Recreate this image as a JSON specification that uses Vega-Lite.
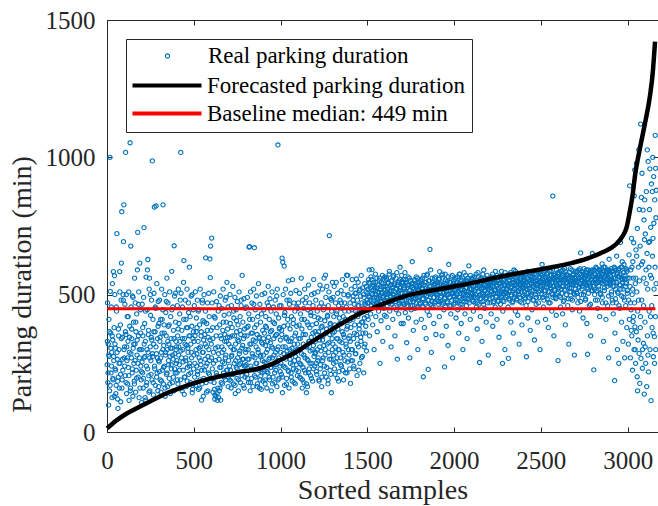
{
  "$schema": "https://vega.github.io/schema/vega-lite/v6.json",
  "width": 551,
  "height": 412,
  "autosize": {"type": "none"},
  "padding": {"left": 107, "top": 20, "right": 0, "bottom": 74},
  "background": "white",
  "config": {
    "view": {"stroke": null},
    "font": "Liberation Serif",
    "axis": {
      "grid": false,
      "domainColor": "#262626",
      "domainWidth": 1,
      "tickColor": "#262626",
      "tickWidth": 1,
      "tickSize": -5,
      "labelColor": "#262626",
      "titleColor": "#262626",
      "labelFont": "Liberation Serif",
      "titleFont": "Liberation Serif",
      "labelFontSize": 25,
      "titleFontSize": 28,
      "titleFontWeight": "normal",
      "labelFlush": false,
      "labelOverlap": false
    },
    "legend": {
      "orient": "none",
      "direction": "vertical",
      "labelFont": "Liberation Serif",
      "labelFontSize": 23,
      "labelColor": "#000000",
      "labelLimit": 400,
      "rowPadding": 6,
      "padding": 6
    }
  },
  "datasets": {
    "samples": [
      {"s":1,"d":245},{"s":3,"d":470},{"s":5,"d":180},{"s":7,"d":320},{"s":9,"d":98},{"s":11,"d":410},{"s":13,"d":275},{"s":15,"d":150},{"s":17,"d":1000},{"s":19,"d":512},{"s":21,"d":360},{"s":23,"d":215},{"s":25,"d":455},{"s":27,"d":290},{"s":29,"d":125},{"s":31,"d":540},{"s":33,"d":335},{"s":35,"d":190},{"s":37,"d":584},{"s":39,"d":260},{"s":41,"d":380},{"s":43,"d":569},{"s":45,"d":500},{"s":47,"d":230},{"s":49,"d":305},{"s":51,"d":140},{"s":53,"d":170},{"s":55,"d":440},{"s":57,"d":722},{"s":59,"d":265},{"s":61,"d":120},{"s":63,"d":86},{"s":65,"d":200},{"s":67,"d":350},{"s":69,"d":300},{"s":71,"d":160},{"s":73,"d":584},{"s":75,"d":250},{"s":77,"d":390},{"s":79,"d":110},{"s":81,"d":480},{"s":83,"d":615},{"s":85,"d":802},{"s":87,"d":190},{"s":89,"d":345},{"s":91,"d":225},{"s":93,"d":500},{"s":95,"d":693},{"s":97,"d":827},{"s":99,"d":270},
      {"s":101,"d":310},{"s":103,"d":465},{"s":105,"d":205},{"s":107,"d":1018},{"s":109,"d":355},{"s":111,"d":500},{"s":113,"d":140},{"s":115,"d":260},{"s":117,"d":420},{"s":119,"d":175},{"s":121,"d":330},{"s":123,"d":235},{"s":125,"d":510},{"s":127,"d":115},{"s":129,"d":290},{"s":131,"d":385},{"s":133,"d":1053},{"s":135,"d":160},{"s":137,"d":677},{"s":139,"d":455},{"s":141,"d":270},{"s":143,"d":340},{"s":145,"d":215},{"s":147,"d":495},{"s":149,"d":130},{"s":151,"d":305},{"s":153,"d":400},{"s":155,"d":250},{"s":157,"d":185},{"s":159,"d":560},{"s":161,"d":320},{"s":163,"d":470},{"s":165,"d":145},{"s":167,"d":365},{"s":169,"d":225},{"s":171,"d":430},{"s":173,"d":280},{"s":175,"d":590},{"s":177,"d":727},{"s":179,"d":200},{"s":181,"d":350},{"s":183,"d":510},{"s":185,"d":125},{"s":187,"d":270},{"s":189,"d":615},{"s":191,"d":300},{"s":193,"d":445},{"s":195,"d":240},{"s":197,"d":190},{"s":199,"d":107},
      {"s":201,"d":300},{"s":203,"d":465},{"s":205,"d":215},{"s":207,"d":350},{"s":209,"d":160},{"s":211,"d":490},{"s":213,"d":744},{"s":215,"d":270},{"s":217,"d":395},{"s":219,"d":125},{"s":221,"d":330},{"s":223,"d":116},{"s":225,"d":564},{"s":227,"d":240},{"s":229,"d":180},{"s":231,"d":445},{"s":233,"d":590},{"s":235,"d":628},{"s":237,"d":290},{"s":239,"d":370},{"s":241,"d":205},{"s":243,"d":520},{"s":245,"d":560},{"s":247,"d":150},{"s":249,"d":310},{"s":251,"d":425},{"s":253,"d":260},{"s":255,"d":345},{"s":257,"d":480},{"s":259,"d":190},{"s":261,"d":987},{"s":263,"d":275},{"s":265,"d":410},{"s":267,"d":135},{"s":269,"d":320},{"s":271,"d":505},{"s":273,"d":819},{"s":275,"d":230},{"s":277,"d":365},{"s":279,"d":170},{"s":281,"d":450},{"s":283,"d":823},{"s":285,"d":285},{"s":287,"d":540},{"s":289,"d":215},{"s":291,"d":340},{"s":293,"d":150},{"s":295,"d":475},{"s":297,"d":260},{"s":299,"d":395},
      {"s":301,"d":255},{"s":303,"d":480},{"s":305,"d":330},{"s":307,"d":190},{"s":309,"d":410},{"s":311,"d":145},{"s":313,"d":290},{"s":315,"d":520},{"s":317,"d":360},{"s":319,"d":225},{"s":321,"d":445},{"s":323,"d":827},{"s":325,"d":175},{"s":327,"d":315},{"s":329,"d":390},{"s":331,"d":240},{"s":333,"d":500},{"s":335,"d":130},{"s":337,"d":280},{"s":339,"d":435},{"s":341,"d":350},{"s":343,"d":210},{"s":345,"d":560},{"s":347,"d":300},{"s":349,"d":165},{"s":351,"d":470},{"s":353,"d":385},{"s":355,"d":245},{"s":357,"d":320},{"s":359,"d":195},{"s":361,"d":510},{"s":363,"d":275},{"s":365,"d":140},{"s":367,"d":420},{"s":369,"d":340},{"s":371,"d":230},{"s":373,"d":585},{"s":375,"d":305},{"s":377,"d":180},{"s":379,"d":455},{"s":381,"d":265},{"s":383,"d":370},{"s":385,"d":150},{"s":387,"d":678},{"s":389,"d":495},{"s":391,"d":285},{"s":393,"d":215},{"s":395,"d":400},{"s":397,"d":330},{"s":399,"d":250},
      {"s":401,"d":310},{"s":403,"d":215},{"s":405,"d":460},{"s":407,"d":350},{"s":409,"d":175},{"s":411,"d":520},{"s":413,"d":280},{"s":415,"d":395},{"s":417,"d":245},{"s":419,"d":430},{"s":421,"d":330},{"s":423,"d":190},{"s":425,"d":1018},{"s":427,"d":505},{"s":429,"d":270},{"s":431,"d":370},{"s":433,"d":150},{"s":435,"d":455},{"s":437,"d":300},{"s":439,"d":225},{"s":441,"d":545},{"s":443,"d":624},{"s":445,"d":137},{"s":447,"d":340},{"s":449,"d":200},{"s":451,"d":480},{"s":453,"d":260},{"s":455,"d":410},{"s":457,"d":165},{"s":459,"d":315},{"s":461,"d":520},{"s":463,"d":235},{"s":465,"d":380},{"s":467,"d":290},{"s":469,"d":470},{"s":471,"d":210},{"s":473,"d":350},{"s":475,"d":600},{"s":477,"d":250},{"s":479,"d":420},{"s":481,"d":180},{"s":483,"d":320},{"s":485,"d":495},{"s":487,"d":270},{"s":489,"d":385},{"s":491,"d":143},{"s":493,"d":155},{"s":495,"d":340},{"s":497,"d":445},{"s":499,"d":230},
      {"s":501,"d":280},{"s":503,"d":460},{"s":505,"d":200},{"s":507,"d":350},{"s":509,"d":510},{"s":511,"d":170},{"s":513,"d":300},{"s":515,"d":415},{"s":517,"d":240},{"s":519,"d":380},{"s":521,"d":480},{"s":523,"d":220},{"s":525,"d":330},{"s":527,"d":155},{"s":529,"d":445},{"s":531,"d":270},{"s":533,"d":390},{"s":535,"d":190},{"s":537,"d":520},{"s":539,"d":310},{"s":541,"d":245},{"s":543,"d":365},{"s":545,"d":116},{"s":547,"d":175},{"s":549,"d":470},{"s":551,"d":290},{"s":553,"d":405},{"s":555,"d":130},{"s":557,"d":335},{"s":559,"d":500},{"s":561,"d":225},{"s":563,"d":355},{"s":565,"d":265},{"s":567,"d":440},{"s":569,"d":634},{"s":571,"d":180},{"s":573,"d":310},{"s":575,"d":395},{"s":577,"d":250},{"s":579,"d":470},{"s":581,"d":150},{"s":583,"d":345},{"s":585,"d":215},{"s":587,"d":300},{"s":589,"d":420},{"s":591,"d":260},{"s":593,"d":630},{"s":595,"d":562},{"s":597,"d":677},{"s":599,"d":370},
      {"s":601,"d":320},{"s":603,"d":706},{"s":605,"d":470},{"s":607,"d":230},{"s":609,"d":380},{"s":611,"d":145},{"s":613,"d":290},{"s":615,"d":510},{"s":617,"d":180},{"s":619,"d":155},{"s":621,"d":120},{"s":623,"d":415},{"s":625,"d":260},{"s":627,"d":130},{"s":629,"d":350},{"s":631,"d":475},{"s":633,"d":205},{"s":635,"d":140},{"s":637,"d":115},{"s":639,"d":310},{"s":641,"d":440},{"s":643,"d":125},{"s":645,"d":265},{"s":647,"d":150},{"s":649,"d":390},{"s":651,"d":160},{"s":653,"d":495},{"s":655,"d":116},{"s":657,"d":235},{"s":659,"d":340},{"s":661,"d":450},{"s":663,"d":290},{"s":665,"d":175},{"s":667,"d":370},{"s":669,"d":520},{"s":671,"d":215},{"s":673,"d":300},{"s":675,"d":425},{"s":677,"d":250},{"s":679,"d":355},{"s":681,"d":480},{"s":683,"d":190},{"s":685,"d":280},{"s":687,"d":400},{"s":689,"d":330},{"s":691,"d":545},{"s":693,"d":225},{"s":695,"d":375},{"s":697,"d":455},{"s":699,"d":200},
      {"s":701,"d":260},{"s":703,"d":430},{"s":705,"d":190},{"s":707,"d":345},{"s":709,"d":500},{"s":711,"d":225},{"s":713,"d":310},{"s":715,"d":160},{"s":717,"d":460},{"s":719,"d":280},{"s":721,"d":380},{"s":723,"d":210},{"s":725,"d":530},{"s":727,"d":300},{"s":729,"d":175},{"s":731,"d":415},{"s":733,"d":250},{"s":735,"d":350},{"s":737,"d":490},{"s":739,"d":140},{"s":741,"d":320},{"s":743,"d":445},{"s":745,"d":235},{"s":747,"d":365},{"s":749,"d":195},{"s":751,"d":475},{"s":753,"d":270},{"s":755,"d":390},{"s":757,"d":150},{"s":759,"d":330},{"s":761,"d":510},{"s":763,"d":245},{"s":765,"d":295},{"s":767,"d":420},{"s":769,"d":180},{"s":771,"d":355},{"s":773,"d":460},{"s":775,"d":220},{"s":777,"d":305},{"s":779,"d":570},{"s":781,"d":265},{"s":783,"d":400},{"s":785,"d":170},{"s":787,"d":340},{"s":789,"d":485},{"s":791,"d":240},{"s":793,"d":375},{"s":795,"d":200},{"s":797,"d":450},{"s":799,"d":290},
      {"s":801,"d":300},{"s":803,"d":455},{"s":805,"d":210},{"s":807,"d":350},{"s":809,"d":490},{"s":811,"d":265},{"s":813,"d":385},{"s":815,"d":180},{"s":817,"d":430},{"s":819,"d":673},{"s":821,"d":675},{"s":823,"d":320},{"s":825,"d":150},{"s":827,"d":510},{"s":829,"d":240},{"s":831,"d":360},{"s":833,"d":195},{"s":835,"d":470},{"s":837,"d":285},{"s":839,"d":410},{"s":841,"d":165},{"s":843,"d":335},{"s":845,"d":520},{"s":847,"d":225},{"s":849,"d":671},{"s":851,"d":380},{"s":853,"d":270},{"s":855,"d":445},{"s":857,"d":200},{"s":859,"d":310},{"s":861,"d":495},{"s":863,"d":250},{"s":865,"d":355},{"s":867,"d":175},{"s":869,"d":420},{"s":871,"d":290},{"s":873,"d":540},{"s":875,"d":230},{"s":877,"d":340},{"s":879,"d":160},{"s":881,"d":465},{"s":883,"d":275},{"s":885,"d":400},{"s":887,"d":205},{"s":889,"d":155},{"s":891,"d":325},{"s":893,"d":500},{"s":895,"d":260},{"s":897,"d":370},{"s":899,"d":185},
      {"s":901,"d":280},{"s":903,"d":445},{"s":905,"d":220},{"s":907,"d":360},{"s":909,"d":505},{"s":911,"d":175},{"s":913,"d":315},{"s":915,"d":420},{"s":917,"d":250},{"s":919,"d":380},{"s":921,"d":160},{"s":923,"d":470},{"s":925,"d":300},{"s":927,"d":215},{"s":929,"d":530},{"s":931,"d":345},{"s":933,"d":265},{"s":935,"d":410},{"s":937,"d":190},{"s":939,"d":485},{"s":941,"d":325},{"s":943,"d":235},{"s":945,"d":440},{"s":947,"d":150},{"s":949,"d":370},{"s":951,"d":510},{"s":953,"d":270},{"s":955,"d":305},{"s":957,"d":200},{"s":959,"d":455},{"s":961,"d":340},{"s":963,"d":245},{"s":965,"d":395},{"s":967,"d":180},{"s":969,"d":480},{"s":971,"d":290},{"s":973,"d":225},{"s":975,"d":430},{"s":977,"d":355},{"s":979,"d":165},{"s":981,"d":520},{"s":983,"d":260},{"s":985,"d":1045},{"s":987,"d":310},{"s":989,"d":415},{"s":991,"d":195},{"s":993,"d":375},{"s":995,"d":460},{"s":997,"d":240},{"s":999,"d":335},
      {"s":1001,"d":290},{"s":1003,"d":460},{"s":1005,"d":210},{"s":1007,"d":355},{"s":1009,"d":633},{"s":1011,"d":143},{"s":1013,"d":618},{"s":1015,"d":500},{"s":1017,"d":240},{"s":1019,"d":385},{"s":1021,"d":604},{"s":1023,"d":170},{"s":1025,"d":435},{"s":1027,"d":310},{"s":1029,"d":520},{"s":1031,"d":265},{"s":1033,"d":345},{"s":1035,"d":195},{"s":1037,"d":480},{"s":1039,"d":280},{"s":1041,"d":410},{"s":1043,"d":225},{"s":1045,"d":550},{"s":1047,"d":330},{"s":1049,"d":160},{"s":1051,"d":465},{"s":1053,"d":300},{"s":1055,"d":375},{"s":1057,"d":250},{"s":1059,"d":505},{"s":1061,"d":215},{"s":1063,"d":420},{"s":1065,"d":340},{"s":1067,"d":185},{"s":1069,"d":555},{"s":1071,"d":290},{"s":1073,"d":395},{"s":1075,"d":230},{"s":1077,"d":470},{"s":1079,"d":320},{"s":1081,"d":260},{"s":1083,"d":440},{"s":1085,"d":175},{"s":1087,"d":360},{"s":1089,"d":515},{"s":1091,"d":245},{"s":1093,"d":385},{"s":1095,"d":300},{"s":1097,"d":205},{"s":1099,"d":450},
      {"s":1101,"d":300},{"s":1103,"d":470},{"s":1105,"d":220},{"s":1107,"d":390},{"s":1109,"d":505},{"s":1111,"d":250},{"s":1113,"d":340},{"s":1115,"d":430},{"s":1117,"d":195},{"s":1119,"d":560},{"s":1121,"d":285},{"s":1123,"d":375},{"s":1125,"d":160},{"s":1127,"d":480},{"s":1129,"d":235},{"s":1131,"d":320},{"s":1133,"d":450},{"s":1135,"d":180},{"s":1137,"d":410},{"s":1139,"d":520},{"s":1141,"d":270},{"s":1143,"d":355},{"s":1145,"d":215},{"s":1147,"d":490},{"s":1149,"d":143},{"s":1151,"d":310},{"s":1153,"d":400},{"s":1155,"d":165},{"s":1157,"d":445},{"s":1159,"d":260},{"s":1161,"d":535},{"s":1163,"d":330},{"s":1165,"d":230},{"s":1167,"d":470},{"s":1169,"d":380},{"s":1171,"d":295},{"s":1173,"d":205},{"s":1175,"d":425},{"s":1177,"d":345},{"s":1179,"d":500},{"s":1181,"d":250},{"s":1183,"d":390},{"s":1185,"d":185},{"s":1187,"d":460},{"s":1189,"d":315},{"s":1191,"d":555},{"s":1193,"d":275},{"s":1195,"d":420},{"s":1197,"d":240},{"s":1199,"d":365},
      {"s":1201,"d":330},{"s":1203,"d":480},{"s":1205,"d":250},{"s":1207,"d":395},{"s":1209,"d":210},{"s":1211,"d":440},{"s":1213,"d":300},{"s":1215,"d":510},{"s":1217,"d":270},{"s":1219,"d":365},{"s":1221,"d":190},{"s":1223,"d":455},{"s":1225,"d":335},{"s":1227,"d":535},{"s":1229,"d":230},{"s":1231,"d":410},{"s":1233,"d":295},{"s":1235,"d":470},{"s":1237,"d":165},{"s":1239,"d":385},{"s":1241,"d":520},{"s":1243,"d":260},{"s":1245,"d":350},{"s":1247,"d":445},{"s":1249,"d":315},{"s":1251,"d":560},{"s":1253,"d":240},{"s":1255,"d":405},{"s":1257,"d":280},{"s":1259,"d":571},{"s":1261,"d":490},{"s":1263,"d":200},{"s":1265,"d":375},{"s":1267,"d":530},{"s":1269,"d":320},{"s":1271,"d":425},{"s":1273,"d":175},{"s":1275,"d":460},{"s":1277,"d":290},{"s":1279,"d":510},{"s":1281,"d":715},{"s":1283,"d":355},{"s":1285,"d":225},{"s":1287,"d":395},{"s":1289,"d":485},{"s":1291,"d":265},{"s":1293,"d":143},{"s":1295,"d":440},{"s":1297,"d":340},{"s":1299,"d":545},
      {"s":1301,"d":360},{"s":1303,"d":490},{"s":1305,"d":280},{"s":1307,"d":420},{"s":1309,"d":530},{"s":1311,"d":230},{"s":1313,"d":390},{"s":1315,"d":310},{"s":1317,"d":470},{"s":1319,"d":255},{"s":1321,"d":545},{"s":1323,"d":340},{"s":1325,"d":440},{"s":1327,"d":195},{"s":1329,"d":505},{"s":1331,"d":375},{"s":1333,"d":300},{"s":1335,"d":460},{"s":1337,"d":220},{"s":1339,"d":415},{"s":1341,"d":330},{"s":1343,"d":480},{"s":1345,"d":270},{"s":1347,"d":395},{"s":1349,"d":515},{"s":1351,"d":240},{"s":1353,"d":450},{"s":1355,"d":365},{"s":1357,"d":555},{"s":1359,"d":290},{"s":1361,"d":420},{"s":1363,"d":190},{"s":1365,"d":500},{"s":1367,"d":345},{"s":1369,"d":470},{"s":1371,"d":260},{"s":1373,"d":410},{"s":1375,"d":535},{"s":1377,"d":320},{"s":1379,"d":455},{"s":1381,"d":571},{"s":1383,"d":215},{"s":1385,"d":385},{"s":1387,"d":570},{"s":1389,"d":495},{"s":1391,"d":300},{"s":1393,"d":440},{"s":1395,"d":280},{"s":1397,"d":405},{"s":1399,"d":350},
      {"s":1401,"d":470},{"s":1403,"d":177},{"s":1405,"d":380},{"s":1407,"d":520},{"s":1409,"d":300},{"s":1411,"d":445},{"s":1413,"d":555},{"s":1415,"d":260},{"s":1417,"d":410},{"s":1419,"d":495},{"s":1421,"d":340},{"s":1423,"d":230},{"s":1425,"d":465},{"s":1427,"d":390},{"s":1429,"d":530},{"s":1431,"d":285},{"s":1433,"d":440},{"s":1435,"d":505},{"s":1437,"d":557},{"s":1439,"d":355},{"s":1441,"d":205},{"s":1443,"d":480},{"s":1445,"d":420},{"s":1447,"d":545},{"s":1449,"d":310},{"s":1451,"d":460},{"s":1453,"d":375},{"s":1455,"d":515},{"s":1457,"d":250},{"s":1459,"d":435},{"s":1461,"d":495},{"s":1463,"d":330},{"s":1465,"d":570},{"s":1467,"d":400},{"s":1469,"d":470},{"s":1471,"d":275},{"s":1473,"d":525},{"s":1475,"d":360},{"s":1477,"d":450},{"s":1479,"d":215},{"s":1481,"d":490},{"s":1483,"d":415},{"s":1485,"d":540},{"s":1487,"d":320},{"s":1489,"d":465},{"s":1491,"d":385},{"s":1493,"d":510},{"s":1495,"d":295},{"s":1497,"d":445},{"s":1499,"d":480},
      {"s":1501,"d":470},{"s":1503,"d":520},{"s":1505,"d":410},{"s":1507,"d":555},{"s":1509,"d":495},{"s":1511,"d":590},{"s":1513,"d":350},{"s":1515,"d":540},{"s":1517,"d":480},{"s":1519,"d":430},{"s":1521,"d":565},{"s":1523,"d":505},{"s":1525,"d":460},{"s":1527,"d":591},{"s":1529,"d":530},{"s":1531,"d":390},{"s":1533,"d":515},{"s":1535,"d":470},{"s":1537,"d":545},{"s":1539,"d":300},{"s":1541,"d":490},{"s":1543,"d":525},{"s":1545,"d":455},{"s":1547,"d":575},{"s":1549,"d":420},{"s":1551,"d":500},{"s":1553,"d":470},{"s":1555,"d":560},{"s":1557,"d":365},{"s":1559,"d":510},{"s":1561,"d":485},{"s":1563,"d":535},{"s":1565,"d":440},{"s":1567,"d":465},{"s":1569,"d":550},{"s":1571,"d":495},{"s":1573,"d":250},{"s":1575,"d":520},{"s":1577,"d":475},{"s":1579,"d":405},{"s":1581,"d":545},{"s":1583,"d":505},{"s":1585,"d":460},{"s":1587,"d":570},{"s":1589,"d":330},{"s":1591,"d":490},{"s":1593,"d":530},{"s":1595,"d":450},{"s":1597,"d":515},{"s":1599,"d":425},
      {"s":1601,"d":565},{"s":1603,"d":500},{"s":1605,"d":475},{"s":1607,"d":530},{"s":1609,"d":420},{"s":1611,"d":555},{"s":1613,"d":490},{"s":1615,"d":460},{"s":1617,"d":520},{"s":1619,"d":380},{"s":1621,"d":545},{"s":1623,"d":505},{"s":1625,"d":470},{"s":1627,"d":585},{"s":1629,"d":440},{"s":1631,"d":515},{"s":1633,"d":495},{"s":1635,"d":535},{"s":1637,"d":310},{"s":1639,"d":480},{"s":1641,"d":550},{"s":1643,"d":465},{"s":1645,"d":525},{"s":1647,"d":410},{"s":1649,"d":500},{"s":1651,"d":570},{"s":1653,"d":455},{"s":1655,"d":490},{"s":1657,"d":540},{"s":1659,"d":350},{"s":1661,"d":510},{"s":1663,"d":475},{"s":1665,"d":560},{"s":1667,"d":445},{"s":1669,"d":520},{"s":1671,"d":495},{"s":1673,"d":265},{"s":1675,"d":535},{"s":1677,"d":480},{"s":1679,"d":505},{"s":1681,"d":430},{"s":1683,"d":550},{"s":1685,"d":470},{"s":1687,"d":515},{"s":1689,"d":600},{"s":1691,"d":460},{"s":1693,"d":525},{"s":1695,"d":395},{"s":1697,"d":490},{"s":1699,"d":545},
      {"s":1701,"d":505},{"s":1703,"d":540},{"s":1705,"d":470},{"s":1707,"d":395},{"s":1709,"d":555},{"s":1711,"d":490},{"s":1713,"d":520},{"s":1715,"d":465},{"s":1717,"d":580},{"s":1719,"d":435},{"s":1721,"d":510},{"s":1723,"d":545},{"s":1725,"d":480},{"s":1727,"d":325},{"s":1729,"d":525},{"s":1731,"d":500},{"s":1733,"d":460},{"s":1735,"d":565},{"s":1737,"d":415},{"s":1739,"d":535},{"s":1741,"d":490},{"s":1743,"d":515},{"s":1745,"d":270},{"s":1747,"d":475},{"s":1749,"d":550},{"s":1751,"d":505},{"s":1753,"d":445},{"s":1755,"d":530},{"s":1757,"d":495},{"s":1759,"d":620},{"s":1761,"d":460},{"s":1763,"d":540},{"s":1765,"d":370},{"s":1767,"d":520},{"s":1769,"d":485},{"s":1771,"d":510},{"s":1773,"d":555},{"s":1775,"d":450},{"s":1777,"d":500},{"s":1779,"d":535},{"s":1781,"d":400},{"s":1783,"d":470},{"s":1785,"d":525},{"s":1787,"d":490},{"s":1789,"d":560},{"s":1791,"d":300},{"s":1793,"d":515},{"s":1795,"d":480},{"s":1797,"d":545},{"s":1799,"d":465},
      {"s":1801,"d":490},{"s":1803,"d":530},{"s":1805,"d":470},{"s":1807,"d":550},{"s":1809,"d":505},{"s":1811,"d":410},{"s":1813,"d":540},{"s":1815,"d":520},{"s":1817,"d":485},{"s":1819,"d":560},{"s":1821,"d":455},{"s":1823,"d":201},{"s":1825,"d":510},{"s":1827,"d":535},{"s":1829,"d":380},{"s":1831,"d":500},{"s":1833,"d":545},{"s":1835,"d":470},{"s":1837,"d":525},{"s":1839,"d":340},{"s":1841,"d":495},{"s":1843,"d":570},{"s":1845,"d":440},{"s":1847,"d":515},{"s":1849,"d":480},{"s":1851,"d":228},{"s":1853,"d":550},{"s":1855,"d":505},{"s":1857,"d":425},{"s":1859,"d":530},{"s":1861,"d":665},{"s":1863,"d":465},{"s":1865,"d":590},{"s":1867,"d":500},{"s":1869,"d":290},{"s":1871,"d":520},{"s":1873,"d":475},{"s":1875,"d":545},{"s":1877,"d":510},{"s":1879,"d":455},{"s":1881,"d":535},{"s":1883,"d":395},{"s":1885,"d":490},{"s":1887,"d":560},{"s":1889,"d":470},{"s":1891,"d":515},{"s":1893,"d":540},{"s":1895,"d":355},{"s":1897,"d":500},{"s":1899,"d":525},
      {"s":1901,"d":515},{"s":1903,"d":480},{"s":1905,"d":545},{"s":1907,"d":500},{"s":1909,"d":530},{"s":1911,"d":465},{"s":1913,"d":555},{"s":1915,"d":420},{"s":1917,"d":584},{"s":1919,"d":510},{"s":1921,"d":540},{"s":1923,"d":475},{"s":1925,"d":525},{"s":1927,"d":495},{"s":1929,"d":571},{"s":1931,"d":350},{"s":1933,"d":560},{"s":1935,"d":470},{"s":1937,"d":535},{"s":1939,"d":505},{"s":1941,"d":445},{"s":1943,"d":520},{"s":1945,"d":237},{"s":1947,"d":490},{"s":1949,"d":575},{"s":1951,"d":455},{"s":1953,"d":540},{"s":1955,"d":385},{"s":1957,"d":510},{"s":1959,"d":530},{"s":1961,"d":475},{"s":1963,"d":550},{"s":1965,"d":315},{"s":1967,"d":500},{"s":1969,"d":610},{"s":1971,"d":525},{"s":1973,"d":460},{"s":1975,"d":545},{"s":1977,"d":490},{"s":1979,"d":515},{"s":1981,"d":430},{"s":1983,"d":565},{"s":1985,"d":505},{"s":1987,"d":480},{"s":1989,"d":535},{"s":1991,"d":270},{"s":1993,"d":520},{"s":1995,"d":495},{"s":1997,"d":550},{"s":1999,"d":465},
      {"s":2001,"d":530},{"s":2003,"d":495},{"s":2005,"d":555},{"s":2007,"d":470},{"s":2009,"d":520},{"s":2011,"d":415},{"s":2013,"d":545},{"s":2015,"d":505},{"s":2017,"d":480},{"s":2019,"d":565},{"s":2021,"d":445},{"s":2023,"d":525},{"s":2025,"d":510},{"s":2027,"d":360},{"s":2029,"d":540},{"s":2031,"d":490},{"s":2033,"d":575},{"s":2035,"d":465},{"s":2037,"d":530},{"s":2039,"d":505},{"s":2041,"d":395},{"s":2043,"d":550},{"s":2045,"d":485},{"s":2047,"d":520},{"s":2049,"d":560},{"s":2051,"d":300},{"s":2053,"d":500},{"s":2055,"d":535},{"s":2057,"d":475},{"s":2059,"d":515},{"s":2061,"d":545},{"s":2063,"d":430},{"s":2065,"d":495},{"s":2067,"d":570},{"s":2069,"d":510},{"s":2071,"d":460},{"s":2073,"d":525},{"s":2075,"d":340},{"s":2077,"d":550},{"s":2079,"d":500},{"s":2081,"d":485},{"s":2083,"d":535},{"s":2085,"d":605},{"s":2087,"d":470},{"s":2089,"d":520},{"s":2091,"d":545},{"s":2093,"d":410},{"s":2095,"d":505},{"s":2097,"d":490},{"s":2099,"d":560},
      {"s":2101,"d":520},{"s":2103,"d":545},{"s":2105,"d":480},{"s":2107,"d":505},{"s":2109,"d":560},{"s":2111,"d":440},{"s":2113,"d":530},{"s":2115,"d":495},{"s":2117,"d":550},{"s":2119,"d":515},{"s":2121,"d":470},{"s":2123,"d":535},{"s":2125,"d":500},{"s":2127,"d":575},{"s":2129,"d":455},{"s":2131,"d":525},{"s":2133,"d":375},{"s":2135,"d":545},{"s":2137,"d":490},{"s":2139,"d":510},{"s":2141,"d":565},{"s":2143,"d":465},{"s":2145,"d":530},{"s":2147,"d":253},{"s":2149,"d":500},{"s":2151,"d":420},{"s":2153,"d":555},{"s":2155,"d":485},{"s":2157,"d":520},{"s":2159,"d":540},{"s":2161,"d":330},{"s":2163,"d":505},{"s":2165,"d":550},{"s":2167,"d":475},{"s":2169,"d":525},{"s":2171,"d":590},{"s":2173,"d":495},{"s":2175,"d":535},{"s":2177,"d":450},{"s":2179,"d":515},{"s":2181,"d":560},{"s":2183,"d":485},{"s":2185,"d":400},{"s":2187,"d":530},{"s":2189,"d":505},{"s":2191,"d":545},{"s":2193,"d":470},{"s":2195,"d":520},{"s":2197,"d":280},{"s":2199,"d":540},
      {"s":2201,"d":535},{"s":2203,"d":500},{"s":2205,"d":555},{"s":2207,"d":470},{"s":2209,"d":525},{"s":2211,"d":545},{"s":2213,"d":430},{"s":2215,"d":510},{"s":2217,"d":565},{"s":2219,"d":490},{"s":2221,"d":530},{"s":2223,"d":385},{"s":2225,"d":550},{"s":2227,"d":505},{"s":2229,"d":475},{"s":2231,"d":540},{"s":2233,"d":515},{"s":2235,"d":560},{"s":2237,"d":455},{"s":2239,"d":520},{"s":2241,"d":545},{"s":2243,"d":495},{"s":2245,"d":535},{"s":2247,"d":410},{"s":2249,"d":570},{"s":2251,"d":505},{"s":2253,"d":480},{"s":2255,"d":550},{"s":2257,"d":525},{"s":2259,"d":345},{"s":2261,"d":540},{"s":2263,"d":500},{"s":2265,"d":560},{"s":2267,"d":465},{"s":2269,"d":530},{"s":2271,"d":515},{"s":2273,"d":585},{"s":2275,"d":490},{"s":2277,"d":545},{"s":2279,"d":250},{"s":2281,"d":440},{"s":2283,"d":520},{"s":2285,"d":555},{"s":2287,"d":475},{"s":2289,"d":505},{"s":2291,"d":535},{"s":2293,"d":300},{"s":2295,"d":565},{"s":2297,"d":510},{"s":2299,"d":490},
      {"s":2301,"d":545},{"s":2303,"d":520},{"s":2305,"d":560},{"s":2307,"d":495},{"s":2309,"d":535},{"s":2311,"d":455},{"s":2313,"d":268},{"s":2315,"d":550},{"s":2317,"d":510},{"s":2319,"d":575},{"s":2321,"d":480},{"s":2323,"d":540},{"s":2325,"d":525},{"s":2327,"d":400},{"s":2329,"d":565},{"s":2331,"d":500},{"s":2333,"d":530},{"s":2335,"d":470},{"s":2337,"d":555},{"s":2339,"d":515},{"s":2341,"d":360},{"s":2343,"d":545},{"s":2345,"d":590},{"s":2347,"d":490},{"s":2349,"d":535},{"s":2351,"d":520},{"s":2353,"d":440},{"s":2355,"d":560},{"s":2357,"d":505},{"s":2359,"d":550},{"s":2361,"d":485},{"s":2363,"d":530},{"s":2365,"d":570},{"s":2367,"d":425},{"s":2369,"d":515},{"s":2371,"d":545},{"s":2373,"d":500},{"s":2375,"d":320},{"s":2377,"d":555},{"s":2379,"d":535},{"s":2381,"d":475},{"s":2383,"d":520},{"s":2385,"d":565},{"s":2387,"d":510},{"s":2389,"d":545},{"s":2391,"d":390},{"s":2393,"d":530},{"s":2395,"d":580},{"s":2397,"d":495},{"s":2399,"d":550},
      {"s":2401,"d":540},{"s":2403,"d":565},{"s":2405,"d":510},{"s":2407,"d":550},{"s":2409,"d":485},{"s":2411,"d":530},{"s":2413,"d":575},{"s":2415,"d":460},{"s":2417,"d":274},{"s":2419,"d":545},{"s":2421,"d":520},{"s":2423,"d":560},{"s":2425,"d":415},{"s":2427,"d":535},{"s":2429,"d":505},{"s":2431,"d":580},{"s":2433,"d":490},{"s":2435,"d":550},{"s":2437,"d":525},{"s":2439,"d":370},{"s":2441,"d":565},{"s":2443,"d":540},{"s":2445,"d":500},{"s":2447,"d":555},{"s":2449,"d":445},{"s":2451,"d":530},{"s":2453,"d":570},{"s":2455,"d":515},{"s":2457,"d":545},{"s":2459,"d":480},{"s":2461,"d":560},{"s":2463,"d":335},{"s":2465,"d":525},{"s":2467,"d":550},{"s":2469,"d":500},{"s":2471,"d":575},{"s":2473,"d":465},{"s":2475,"d":540},{"s":2477,"d":520},{"s":2479,"d":555},{"s":2481,"d":400},{"s":2483,"d":535},{"s":2485,"d":585},{"s":2487,"d":510},{"s":2489,"d":545},{"s":2491,"d":490},{"s":2493,"d":565},{"s":2495,"d":300},{"s":2497,"d":530},{"s":2499,"d":550},
      {"s":2501,"d":545},{"s":2503,"d":520},{"s":2505,"d":570},{"s":2507,"d":610},{"s":2509,"d":490},{"s":2511,"d":555},{"s":2513,"d":535},{"s":2515,"d":455},{"s":2517,"d":580},{"s":2519,"d":515},{"s":2521,"d":545},{"s":2523,"d":500},{"s":2525,"d":565},{"s":2527,"d":410},{"s":2529,"d":540},{"s":2531,"d":555},{"s":2533,"d":525},{"s":2535,"d":575},{"s":2537,"d":485},{"s":2539,"d":550},{"s":2541,"d":530},{"s":2543,"d":380},{"s":2545,"d":560},{"s":2547,"d":545},{"s":2549,"d":510},{"s":2551,"d":585},{"s":2553,"d":470},{"s":2555,"d":535},{"s":2557,"d":555},{"s":2559,"d":520},{"s":2561,"d":570},{"s":2563,"d":440},{"s":2565,"d":545},{"s":2567,"d":500},{"s":2569,"d":859},{"s":2571,"d":560},{"s":2573,"d":530},{"s":2575,"d":350},{"s":2577,"d":575},{"s":2579,"d":515},{"s":2581,"d":550},{"s":2583,"d":490},{"s":2585,"d":540},{"s":2587,"d":565},{"s":2589,"d":425},{"s":2591,"d":530},{"s":2593,"d":555},{"s":2595,"d":505},{"s":2597,"d":580},{"s":2599,"d":260},
      {"s":2601,"d":550},{"s":2603,"d":525},{"s":2605,"d":575},{"s":2607,"d":495},{"s":2609,"d":560},{"s":2611,"d":540},{"s":2613,"d":455},{"s":2615,"d":585},{"s":2617,"d":520},{"s":2619,"d":555},{"s":2621,"d":505},{"s":2623,"d":570},{"s":2625,"d":430},{"s":2627,"d":545},{"s":2629,"d":530},{"s":2631,"d":565},{"s":2633,"d":480},{"s":2635,"d":550},{"s":2637,"d":595},{"s":2639,"d":515},{"s":2641,"d":390},{"s":2643,"d":560},{"s":2645,"d":540},{"s":2647,"d":575},{"s":2649,"d":500},{"s":2651,"d":545},{"s":2653,"d":530},{"s":2655,"d":460},{"s":2657,"d":570},{"s":2659,"d":555},{"s":2661,"d":320},{"s":2663,"d":535},{"s":2665,"d":580},{"s":2667,"d":510},{"s":2669,"d":550},{"s":2671,"d":565},{"s":2673,"d":485},{"s":2675,"d":540},{"s":2677,"d":525},{"s":2679,"d":590},{"s":2681,"d":445},{"s":2683,"d":560},{"s":2685,"d":535},{"s":2687,"d":570},{"s":2689,"d":505},{"s":2691,"d":550},{"s":2693,"d":280},{"s":2695,"d":545},{"s":2697,"d":565},{"s":2699,"d":520},
      {"s":2701,"d":560},{"s":2703,"d":535},{"s":2705,"d":580},{"s":2707,"d":505},{"s":2709,"d":550},{"s":2711,"d":570},{"s":2713,"d":470},{"s":2715,"d":545},{"s":2717,"d":590},{"s":2719,"d":525},{"s":2721,"d":560},{"s":2723,"d":440},{"s":2725,"d":575},{"s":2727,"d":540},{"s":2729,"d":652},{"s":2731,"d":555},{"s":2733,"d":500},{"s":2735,"d":585},{"s":2737,"d":530},{"s":2739,"d":565},{"s":2741,"d":550},{"s":2743,"d":415},{"s":2745,"d":575},{"s":2747,"d":540},{"s":2749,"d":595},{"s":2751,"d":510},{"s":2753,"d":560},{"s":2755,"d":545},{"s":2757,"d":480},{"s":2759,"d":570},{"s":2761,"d":535},{"s":2763,"d":580},{"s":2765,"d":395},{"s":2767,"d":555},{"s":2769,"d":283},{"s":2771,"d":520},{"s":2773,"d":590},{"s":2775,"d":545},{"s":2777,"d":565},{"s":2779,"d":460},{"s":2781,"d":540},{"s":2783,"d":580},{"s":2785,"d":530},{"s":2787,"d":350},{"s":2789,"d":570},{"s":2791,"d":555},{"s":2793,"d":515},{"s":2795,"d":590},{"s":2797,"d":650},{"s":2799,"d":545},
      {"s":2801,"d":565},{"s":2803,"d":545},{"s":2805,"d":226},{"s":2807,"d":590},{"s":2809,"d":520},{"s":2811,"d":575},{"s":2813,"d":555},{"s":2815,"d":480},{"s":2817,"d":600},{"s":2819,"d":540},{"s":2821,"d":565},{"s":2823,"d":515},{"s":2825,"d":585},{"s":2827,"d":450},{"s":2829,"d":560},{"s":2831,"d":545},{"s":2833,"d":530},{"s":2835,"d":590},{"s":2837,"d":570},{"s":2839,"d":420},{"s":2841,"d":555},{"s":2843,"d":580},{"s":2845,"d":500},{"s":2847,"d":565},{"s":2849,"d":545},{"s":2851,"d":595},{"s":2853,"d":612},{"s":2855,"d":470},{"s":2857,"d":575},{"s":2859,"d":550},{"s":2861,"d":330},{"s":2863,"d":585},{"s":2865,"d":560},{"s":2867,"d":525},{"s":2869,"d":600},{"s":2871,"d":545},{"s":2873,"d":570},{"s":2875,"d":410},{"s":2877,"d":580},{"s":2879,"d":555},{"s":2881,"d":540},{"s":2883,"d":590},{"s":2885,"d":460},{"s":2887,"d":565},{"s":2889,"d":575},{"s":2891,"d":270},{"s":2893,"d":629},{"s":2895,"d":550},{"s":2897,"d":585},{"s":2899,"d":535},
      {"s":2901,"d":570},{"s":2903,"d":540},{"s":2905,"d":595},{"s":2907,"d":510},{"s":2909,"d":555},{"s":2911,"d":480},{"s":2913,"d":585},{"s":2915,"d":530},{"s":2917,"d":430},{"s":2919,"d":575},{"s":2921,"d":545},{"s":2923,"d":600},{"s":2925,"d":187},{"s":2927,"d":360},{"s":2929,"d":560},{"s":2931,"d":520},{"s":2933,"d":590},{"s":2935,"d":470},{"s":2937,"d":640},{"s":2939,"d":545},{"s":2941,"d":300},{"s":2943,"d":580},{"s":2945,"d":505},{"s":2947,"d":565},{"s":2949,"d":250},{"s":2951,"d":595},{"s":2953,"d":535},{"s":2955,"d":450},{"s":2957,"d":575},{"s":2959,"d":690},{"s":2961,"d":520},{"s":2963,"d":560},{"s":2965,"d":400},{"s":2967,"d":600},{"s":2969,"d":620},{"s":2971,"d":545},{"s":2973,"d":330},{"s":2975,"d":580},{"s":2977,"d":490},{"s":2979,"d":610},{"s":2981,"d":555},{"s":2983,"d":270},{"s":2985,"d":570},{"s":2987,"d":530},{"s":2989,"d":460},{"s":2991,"d":595},{"s":2993,"d":545},{"s":2995,"d":380},{"s":2997,"d":585},{"s":2999,"d":515},
      {"s":3002,"d":560},{"s":3004,"d":320},{"s":3006,"d":480},{"s":3008,"d":645},{"s":3010,"d":410},{"s":3012,"d":896},{"s":3013,"d":560},{"s":3014,"d":530},{"s":3016,"d":270},{"s":3017,"d":470},{"s":3018,"d":590},{"s":3020,"d":445},{"s":3021,"d":370},{"s":3022,"d":705},{"s":3024,"d":350},{"s":3025,"d":600},{"s":3026,"d":500},{"s":3028,"d":225},{"s":3029,"d":520},{"s":3030,"d":620},{"s":3031,"d":402},{"s":3033,"d":560},{"s":3034,"d":420},{"s":3035,"d":689},{"s":3037,"d":300},{"s":3038,"d":860},{"s":3039,"d":470},{"s":3041,"d":954},{"s":3042,"d":383},{"s":3043,"d":300},{"s":3044,"d":540},{"s":3046,"d":250},{"s":3047,"d":560},{"s":3048,"d":663},{"s":3050,"d":365},{"s":3051,"d":978},{"s":3052,"d":640},{"s":3053,"d":510},{"s":3055,"d":201},{"s":3056,"d":741},{"s":3057,"d":150},{"s":3058,"d":440},{"s":3060,"d":335},{"s":3062,"d":600},{"s":3063,"d":480},{"s":3064,"d":1027},{"s":3066,"d":286},{"s":3067,"d":810},{"s":3068,"d":550},{"s":3070,"d":177},{"s":3072,"d":677},{"s":3073,"d":380},{"s":3074,"d":420},{"s":3075,"d":1121},{"s":3077,"d":268},{"s":3079,"d":854},{"s":3080,"d":610},{"s":3081,"d":480},{"s":3083,"d":942},{"s":3085,"d":232},{"s":3086,"d":300},{"s":3087,"d":620},{"s":3089,"d":808},{"s":3091,"d":323},{"s":3092,"d":460},{"s":3093,"d":560},{"s":3094,"d":772},{"s":3096,"d":138},{"s":3097,"d":700},{"s":3098,"d":845},{"s":3100,"d":400},{"s":3101,"d":310},{"s":3102,"d":721},{"s":3104,"d":250},{"s":3106,"d":590},{"s":3107,"d":540},{"s":3108,"d":875},{"s":3110,"d":165},{"s":3112,"d":650},{"s":3113,"d":1027},{"s":3114,"d":350},{"s":3116,"d":520},{"s":3117,"d":280},{"s":3118,"d":985},{"s":3120,"d":219},{"s":3122,"d":690},{"s":3123,"d":600},{"s":3124,"d":440},{"s":3126,"d":810},{"s":3127,"d":693},{"s":3128,"d":958},{"s":3129,"d":300},{"s":3131,"d":570},{"s":3132,"d":420},{"s":3133,"d":745},{"s":3135,"d":114},{"s":3137,"d":903},{"s":3138,"d":560},{"s":3139,"d":460},{"s":3141,"d":380},{"s":3142,"d":875},{"s":3143,"d":640},{"s":3145,"d":1000},{"s":3146,"d":705},{"s":3147,"d":360},{"s":3148,"d":274},{"s":3150,"d":930},{"s":3151,"d":760},{"s":3152,"d":520},{"s":3154,"d":347},{"s":3155,"d":250},{"s":3156,"d":845},{"s":3158,"d":600},{"s":3159,"d":1080},{"s":3160,"d":420},{"s":3161,"d":960},{"s":3162,"d":300},{"s":3163,"d":780},{"s":3164,"d":540},{"s":3165,"d":880},
      {"s":2,"d":330},{"s":6,"d":215},{"s":10,"d":280},{"s":14,"d":365},{"s":18,"d":170},{"s":22,"d":305},{"s":26,"d":240},{"s":30,"d":350},{"s":34,"d":195},{"s":38,"d":275},{"s":42,"d":130},{"s":46,"d":320},{"s":50,"d":225},{"s":54,"d":455},{"s":58,"d":290},{"s":62,"d":185},{"s":66,"d":375},{"s":70,"d":250},{"s":74,"d":510},{"s":78,"d":210},{"s":82,"d":340},{"s":86,"d":160},{"s":90,"d":265},{"s":94,"d":480},{"s":98,"d":300},
      {"s":102,"d":240},{"s":106,"d":365},{"s":110,"d":180},{"s":114,"d":310},{"s":118,"d":270},{"s":122,"d":420},{"s":126,"d":205},{"s":130,"d":345},{"s":134,"d":150},{"s":138,"d":285},{"s":142,"d":375},{"s":146,"d":230},{"s":150,"d":490},{"s":154,"d":320},{"s":158,"d":175},{"s":162,"d":260},{"s":166,"d":400},{"s":170,"d":195},{"s":174,"d":335},{"s":178,"d":250},{"s":182,"d":465},{"s":186,"d":300},{"s":190,"d":160},{"s":194,"d":360},{"s":198,"d":220},
      {"s":202,"d":255},{"s":206,"d":380},{"s":210,"d":195},{"s":214,"d":320},{"s":218,"d":275},{"s":222,"d":440},{"s":226,"d":170},{"s":230,"d":300},{"s":234,"d":230},{"s":238,"d":355},{"s":242,"d":145},{"s":246,"d":270},{"s":250,"d":500},{"s":254,"d":210},{"s":258,"d":335},{"s":262,"d":285},{"s":266,"d":180},{"s":270,"d":365},{"s":274,"d":240},{"s":278,"d":455},{"s":282,"d":310},{"s":286,"d":200},{"s":290,"d":270},{"s":294,"d":385},{"s":298,"d":165},
      {"s":302,"d":220},{"s":306,"d":345},{"s":310,"d":270},{"s":314,"d":185},{"s":318,"d":410},{"s":322,"d":300},{"s":326,"d":235},{"s":330,"d":360},{"s":334,"d":160},{"s":338,"d":290},{"s":342,"d":475},{"s":346,"d":215},{"s":350,"d":330},{"s":354,"d":260},{"s":358,"d":390},{"s":362,"d":175},{"s":366,"d":305},{"s":370,"d":245},{"s":374,"d":445},{"s":378,"d":280},{"s":382,"d":200},{"s":386,"d":340},{"s":390,"d":230},{"s":394,"d":505},{"s":398,"d":300},
      {"s":402,"d":260},{"s":406,"d":190},{"s":410,"d":375},{"s":414,"d":310},{"s":418,"d":225},{"s":422,"d":480},{"s":426,"d":295},{"s":430,"d":160},{"s":434,"d":340},{"s":438,"d":255},{"s":442,"d":410},{"s":446,"d":200},{"s":450,"d":320},{"s":454,"d":270},{"s":458,"d":380},{"s":462,"d":185},{"s":466,"d":305},{"s":470,"d":435},{"s":474,"d":240},{"s":478,"d":350},{"s":482,"d":215},{"s":486,"d":290},{"s":490,"d":500},{"s":494,"d":170},{"s":498,"d":365},
      {"s":502,"d":330},{"s":506,"d":250},{"s":510,"d":180},{"s":514,"d":365},{"s":518,"d":285},{"s":522,"d":210},{"s":526,"d":440},{"s":530,"d":305},{"s":534,"d":160},{"s":538,"d":260},{"s":542,"d":350},{"s":546,"d":225},{"s":550,"d":480},{"s":554,"d":290},{"s":558,"d":195},{"s":562,"d":400},{"s":566,"d":320},{"s":570,"d":240},{"s":574,"d":145},{"s":578,"d":370},{"s":582,"d":275},{"s":586,"d":505},{"s":590,"d":210},{"s":594,"d":335},{"s":598,"d":185},
      {"s":602,"d":270},{"s":606,"d":195},{"s":610,"d":340},{"s":614,"d":250},{"s":618,"d":420},{"s":622,"d":135},{"s":626,"d":305},{"s":630,"d":215},{"s":634,"d":380},{"s":638,"d":160},{"s":642,"d":285},{"s":646,"d":460},{"s":650,"d":235},{"s":654,"d":350},{"s":658,"d":180},{"s":662,"d":310},{"s":666,"d":255},{"s":670,"d":400},{"s":674,"d":200},{"s":678,"d":330},{"s":682,"d":270},{"s":686,"d":490},{"s":690,"d":225},{"s":694,"d":345},{"s":698,"d":165},
      {"s":702,"d":320},{"s":706,"d":240},{"s":710,"d":395},{"s":714,"d":185},{"s":718,"d":275},{"s":722,"d":350},{"s":726,"d":210},{"s":730,"d":440},{"s":734,"d":300},{"s":738,"d":170},{"s":742,"d":260},{"s":746,"d":405},{"s":750,"d":230},{"s":754,"d":335},{"s":758,"d":190},{"s":762,"d":285},{"s":766,"d":370},{"s":770,"d":250},{"s":774,"d":480},{"s":778,"d":205},{"s":782,"d":315},{"s":786,"d":265},{"s":790,"d":160},{"s":794,"d":350},{"s":798,"d":240},
      {"s":802,"d":245},{"s":806,"d":380},{"s":810,"d":195},{"s":814,"d":300},{"s":818,"d":265},{"s":822,"d":410},{"s":826,"d":180},{"s":830,"d":320},{"s":834,"d":230},{"s":838,"d":360},{"s":842,"d":275},{"s":846,"d":465},{"s":850,"d":205},{"s":854,"d":330},{"s":858,"d":250},{"s":862,"d":390},{"s":866,"d":165},{"s":870,"d":300},{"s":874,"d":225},{"s":878,"d":345},{"s":882,"d":190},{"s":886,"d":280},{"s":890,"d":430},{"s":894,"d":215},{"s":898,"d":320},
      {"s":902,"d":340},{"s":906,"d":255},{"s":910,"d":190},{"s":914,"d":385},{"s":918,"d":290},{"s":922,"d":220},{"s":926,"d":330},{"s":930,"d":460},{"s":934,"d":200},{"s":938,"d":270},{"s":942,"d":365},{"s":946,"d":235},{"s":950,"d":310},{"s":954,"d":175},{"s":958,"d":400},{"s":962,"d":280},{"s":966,"d":215},{"s":970,"d":350},{"s":974,"d":245},{"s":978,"d":495},{"s":982,"d":300},{"s":986,"d":190},{"s":990,"d":270},{"s":994,"d":380},{"s":998,"d":220},
      {"s":1002,"d":250},{"s":1006,"d":370},{"s":1010,"d":200},{"s":1014,"d":310},{"s":1018,"d":285},{"s":1022,"d":425},{"s":1026,"d":235},{"s":1030,"d":340},{"s":1034,"d":175},{"s":1038,"d":295},{"s":1042,"d":390},{"s":1046,"d":220},{"s":1050,"d":480},{"s":1054,"d":265},{"s":1058,"d":330},{"s":1062,"d":200},{"s":1066,"d":305},{"s":1070,"d":245},{"s":1074,"d":410},{"s":1078,"d":180},{"s":1082,"d":350},{"s":1086,"d":275},{"s":1090,"d":225},{"s":1094,"d":455},{"s":1098,"d":320},
      {"s":1102,"d":265},{"s":1106,"d":340},{"s":1110,"d":200},{"s":1114,"d":300},{"s":1118,"d":245},{"s":1122,"d":410},{"s":1126,"d":190},{"s":1130,"d":355},{"s":1134,"d":280},{"s":1138,"d":225},{"s":1142,"d":470},{"s":1146,"d":310},{"s":1150,"d":175},{"s":1154,"d":265},{"s":1158,"d":390},{"s":1162,"d":215},{"s":1166,"d":330},{"s":1170,"d":250},{"s":1174,"d":435},{"s":1178,"d":195},{"s":1182,"d":300},{"s":1186,"d":360},{"s":1190,"d":230},{"s":1194,"d":505},{"s":1198,"d":285},
      {"s":1202,"d":290},{"s":1206,"d":220},{"s":1210,"d":355},{"s":1214,"d":260},{"s":1218,"d":415},{"s":1222,"d":185},{"s":1226,"d":310},{"s":1230,"d":245},{"s":1234,"d":380},{"s":1238,"d":200},{"s":1242,"d":335},{"s":1246,"d":270},{"s":1250,"d":455},{"s":1254,"d":215},{"s":1258,"d":300},{"s":1262,"d":360},{"s":1266,"d":235},{"s":1270,"d":420},{"s":1274,"d":190},{"s":1278,"d":325},{"s":1282,"d":265},{"s":1286,"d":390},{"s":1290,"d":210},{"s":1294,"d":480},{"s":1298,"d":300},
      {"s":1302,"d":320},{"s":1306,"d":250},{"s":1310,"d":365},{"s":1314,"d":210},{"s":1318,"d":290},{"s":1322,"d":430},{"s":1326,"d":270},{"s":1330,"d":340},{"s":1334,"d":185},{"s":1338,"d":300},{"s":1342,"d":395},{"s":1346,"d":245},{"s":1350,"d":470},{"s":1354,"d":325},{"s":1358,"d":225},{"s":1362,"d":355},{"s":1366,"d":280},{"s":1370,"d":440},{"s":1374,"d":215},{"s":1378,"d":310},{"s":1382,"d":375},{"s":1386,"d":255},{"s":1390,"d":500},{"s":1394,"d":340},{"s":1398,"d":230},
      {"s":1402,"d":330},{"s":1406,"d":260},{"s":1410,"d":415},{"s":1414,"d":300},{"s":1418,"d":480},{"s":1422,"d":240},{"s":1426,"d":360},{"s":1430,"d":505},{"s":1434,"d":285},{"s":1438,"d":430},{"s":1442,"d":320},{"s":1446,"d":460},{"s":1450,"d":225},{"s":1454,"d":390},{"s":1458,"d":520},{"s":1462,"d":345},{"s":1466,"d":270},{"s":1470,"d":445},{"s":1474,"d":400},{"s":1478,"d":500},{"s":1482,"d":310},{"s":1486,"d":470},{"s":1490,"d":360},{"s":1494,"d":530},{"s":1498,"d":420},
      {"s":1502,"d":505},{"s":1506,"d":470},{"s":1510,"d":545},{"s":1514,"d":490},{"s":1518,"d":525},{"s":1522,"d":460},{"s":1526,"d":555},{"s":1530,"d":500},{"s":1534,"d":480},{"s":1538,"d":535},{"s":1542,"d":465},{"s":1546,"d":515},{"s":1550,"d":545},{"s":1554,"d":490},{"s":1558,"d":525},{"s":1562,"d":470},{"s":1566,"d":505},{"s":1570,"d":560},{"s":1574,"d":485},{"s":1578,"d":530},{"s":1582,"d":455},{"s":1586,"d":510},{"s":1590,"d":540},{"s":1594,"d":495},{"s":1598,"d":560},
      {"s":1602,"d":520},{"s":1606,"d":480},{"s":1610,"d":560},{"s":1614,"d":500},{"s":1618,"d":540},{"s":1622,"d":470},{"s":1626,"d":575},{"s":1630,"d":510},{"s":1634,"d":490},{"s":1638,"d":550},{"s":1642,"d":475},{"s":1646,"d":530},{"s":1650,"d":565},{"s":1654,"d":500},{"s":1658,"d":535},{"s":1662,"d":485},{"s":1666,"d":520},{"s":1670,"d":580},{"s":1674,"d":495},{"s":1678,"d":545},{"s":1682,"d":465},{"s":1686,"d":525},{"s":1690,"d":555},{"s":1694,"d":505},{"s":1698,"d":570},
      {"s":1702,"d":490},{"s":1706,"d":545},{"s":1710,"d":465},{"s":1714,"d":525},{"s":1718,"d":505},{"s":1722,"d":555},{"s":1726,"d":470},{"s":1730,"d":535},{"s":1734,"d":500},{"s":1738,"d":480},{"s":1742,"d":560},{"s":1746,"d":515},{"s":1750,"d":460},{"s":1754,"d":540},{"s":1758,"d":495},{"s":1762,"d":525},{"s":1766,"d":475},{"s":1770,"d":550},{"s":1774,"d":510},{"s":1778,"d":485},{"s":1782,"d":565},{"s":1786,"d":530},{"s":1790,"d":455},{"s":1794,"d":520},{"s":1798,"d":545},
      {"s":1802,"d":535},{"s":1806,"d":470},{"s":1810,"d":555},{"s":1814,"d":500},{"s":1818,"d":525},{"s":1822,"d":485},{"s":1826,"d":570},{"s":1830,"d":510},{"s":1834,"d":465},{"s":1838,"d":545},{"s":1842,"d":495},{"s":1846,"d":575},{"s":1850,"d":520},{"s":1854,"d":480},{"s":1858,"d":550},{"s":1862,"d":505},{"s":1866,"d":530},{"s":1870,"d":460},{"s":1874,"d":560},{"s":1878,"d":515},{"s":1882,"d":490},{"s":1886,"d":540},{"s":1890,"d":475},{"s":1894,"d":565},{"s":1898,"d":505},
      {"s":1902,"d":500},{"s":1906,"d":545},{"s":1910,"d":475},{"s":1914,"d":560},{"s":1918,"d":520},{"s":1922,"d":490},{"s":1926,"d":535},{"s":1930,"d":465},{"s":1934,"d":575},{"s":1938,"d":510},{"s":1942,"d":540},{"s":1946,"d":485},{"s":1950,"d":555},{"s":1954,"d":500},{"s":1958,"d":525},{"s":1962,"d":470},{"s":1966,"d":565},{"s":1970,"d":515},{"s":1974,"d":490},{"s":1978,"d":545},{"s":1982,"d":460},{"s":1986,"d":530},{"s":1990,"d":570},{"s":1994,"d":505},{"s":1998,"d":540},
      {"s":2002,"d":515},{"s":2006,"d":480},{"s":2010,"d":560},{"s":2014,"d":500},{"s":2018,"d":545},{"s":2022,"d":470},{"s":2026,"d":530},{"s":2030,"d":575},{"s":2034,"d":490},{"s":2038,"d":520},{"s":2042,"d":555},{"s":2046,"d":465},{"s":2050,"d":540},{"s":2054,"d":505},{"s":2058,"d":580},{"s":2062,"d":485},{"s":2066,"d":525},{"s":2070,"d":550},{"s":2074,"d":475},{"s":2078,"d":560},{"s":2082,"d":510},{"s":2086,"d":535},{"s":2090,"d":495},{"s":2094,"d":570},{"s":2098,"d":520},
      {"s":2102,"d":500},{"s":2106,"d":555},{"s":2110,"d":475},{"s":2114,"d":530},{"s":2118,"d":565},{"s":2122,"d":490},{"s":2126,"d":520},{"s":2130,"d":545},{"s":2134,"d":470},{"s":2138,"d":580},{"s":2142,"d":510},{"s":2146,"d":540},{"s":2150,"d":485},{"s":2154,"d":560},{"s":2158,"d":525},{"s":2162,"d":500},{"s":2166,"d":575},{"s":2170,"d":465},{"s":2174,"d":535},{"s":2178,"d":515},{"s":2182,"d":550},{"s":2186,"d":490},{"s":2190,"d":570},{"s":2194,"d":505},{"s":2198,"d":530},
      {"s":2202,"d":520},{"s":2206,"d":485},{"s":2210,"d":560},{"s":2214,"d":535},{"s":2218,"d":500},{"s":2222,"d":575},{"s":2226,"d":470},{"s":2230,"d":545},{"s":2234,"d":515},{"s":2238,"d":585},{"s":2242,"d":490},{"s":2246,"d":530},{"s":2250,"d":555},{"s":2254,"d":475},{"s":2258,"d":565},{"s":2262,"d":505},{"s":2266,"d":540},{"s":2270,"d":495},{"s":2274,"d":570},{"s":2278,"d":520},{"s":2282,"d":480},{"s":2286,"d":550},{"s":2290,"d":510},{"s":2294,"d":580},{"s":2298,"d":535},
      {"s":2302,"d":505},{"s":2306,"d":570},{"s":2310,"d":530},{"s":2314,"d":485},{"s":2318,"d":555},{"s":2322,"d":515},{"s":2326,"d":580},{"s":2330,"d":495},{"s":2334,"d":545},{"s":2338,"d":475},{"s":2342,"d":565},{"s":2346,"d":520},{"s":2350,"d":500},{"s":2354,"d":585},{"s":2358,"d":535},{"s":2362,"d":480},{"s":2366,"d":550},{"s":2370,"d":510},{"s":2374,"d":575},{"s":2378,"d":490},{"s":2382,"d":540},{"s":2386,"d":560},{"s":2390,"d":470},{"s":2394,"d":525},{"s":2398,"d":570},
      {"s":2402,"d":525},{"s":2406,"d":490},{"s":2410,"d":570},{"s":2414,"d":545},{"s":2418,"d":505},{"s":2422,"d":585},{"s":2426,"d":475},{"s":2430,"d":555},{"s":2434,"d":520},{"s":2438,"d":580},{"s":2442,"d":495},{"s":2446,"d":540},{"s":2450,"d":565},{"s":2454,"d":480},{"s":2458,"d":530},{"s":2462,"d":575},{"s":2466,"d":510},{"s":2470,"d":550},{"s":2474,"d":490},{"s":2478,"d":585},{"s":2482,"d":535},{"s":2486,"d":470},{"s":2490,"d":560},{"s":2494,"d":515},{"s":2498,"d":575},
      {"s":2502,"d":530},{"s":2506,"d":500},{"s":2510,"d":575},{"s":2514,"d":550},{"s":2518,"d":480},{"s":2522,"d":590},{"s":2526,"d":515},{"s":2530,"d":560},{"s":2534,"d":495},{"s":2538,"d":540},{"s":2542,"d":580},{"s":2546,"d":470},{"s":2550,"d":555},{"s":2554,"d":525},{"s":2558,"d":585},{"s":2562,"d":505},{"s":2566,"d":545},{"s":2570,"d":490},{"s":2574,"d":570},{"s":2578,"d":520},{"s":2582,"d":560},{"s":2586,"d":485},{"s":2590,"d":590},{"s":2594,"d":535},{"s":2598,"d":555},
      {"s":2602,"d":510},{"s":2606,"d":580},{"s":2610,"d":545},{"s":2614,"d":490},{"s":2618,"d":565},{"s":2622,"d":530},{"s":2626,"d":590},{"s":2630,"d":475},{"s":2634,"d":555},{"s":2638,"d":520},{"s":2642,"d":585},{"s":2646,"d":500},{"s":2650,"d":545},{"s":2654,"d":570},{"s":2658,"d":485},{"s":2662,"d":560},{"s":2666,"d":525},{"s":2670,"d":595},{"s":2674,"d":510},{"s":2678,"d":550},{"s":2682,"d":480},{"s":2686,"d":575},{"s":2690,"d":540},{"s":2694,"d":500},{"s":2698,"d":585},
      {"s":2702,"d":545},{"s":2706,"d":510},{"s":2710,"d":585},{"s":2714,"d":490},{"s":2718,"d":560},{"s":2722,"d":530},{"s":2726,"d":595},{"s":2730,"d":475},{"s":2734,"d":555},{"s":2738,"d":520},{"s":2742,"d":580},{"s":2746,"d":500},{"s":2750,"d":570},{"s":2754,"d":540},{"s":2758,"d":485},{"s":2762,"d":590},{"s":2766,"d":525},{"s":2770,"d":560},{"s":2774,"d":505},{"s":2778,"d":575},{"s":2782,"d":535},{"s":2786,"d":465},{"s":2790,"d":585},{"s":2794,"d":550},{"s":2798,"d":515},
      {"s":2802,"d":530},{"s":2806,"d":585},{"s":2810,"d":500},{"s":2814,"d":560},{"s":2818,"d":545},{"s":2822,"d":595},{"s":2826,"d":480},{"s":2830,"d":570},{"s":2834,"d":520},{"s":2838,"d":590},{"s":2842,"d":505},{"s":2846,"d":555},{"s":2850,"d":575},{"s":2854,"d":490},{"s":2858,"d":540},{"s":2862,"d":600},{"s":2866,"d":515},{"s":2870,"d":565},{"s":2874,"d":470},{"s":2878,"d":585},{"s":2882,"d":530},{"s":2886,"d":555},{"s":2890,"d":495},{"s":2894,"d":590},{"s":2898,"d":545},
      {"s":2902,"d":555},{"s":2906,"d":500},{"s":2910,"d":585},{"s":2914,"d":470},{"s":2918,"d":560},{"s":2922,"d":530},{"s":2926,"d":595},{"s":2930,"d":485},{"s":2934,"d":545},{"s":2938,"d":575},{"s":2942,"d":510},{"s":2946,"d":590},{"s":2950,"d":460},{"s":2954,"d":565},{"s":2958,"d":535},{"s":2962,"d":600},{"s":2966,"d":495},{"s":2970,"d":555},{"s":2974,"d":520},{"s":2978,"d":580},{"s":2982,"d":480},{"s":2986,"d":560},{"s":2990,"d":540},{"s":2994,"d":590},{"s":2998,"d":505}
    ],
    "forecast": [
      {"s":1,"f":13},{"s":50,"f":40},{"s":100,"f":62},{"s":152,"f":80},{"s":250,"f":112},{"s":344,"f":141},{"s":420,"f":160},{"s":498,"f":177},{"s":600,"f":195},{"s":728,"f":213},{"s":800,"f":222},{"s":882,"f":232},{"s":960,"f":250},{"s":1036,"f":274},{"s":1100,"f":295},{"s":1152,"f":317},{"s":1230,"f":348},{"s":1305,"f":377},{"s":1380,"f":405},{"s":1459,"f":432},{"s":1517,"f":447},{"s":1574,"f":462},{"s":1640,"f":478},{"s":1709,"f":493},{"s":1800,"f":507},{"s":1901,"f":519},{"s":2000,"f":530},{"s":2093,"f":541},{"s":2190,"f":555},{"s":2285,"f":568},{"s":2380,"f":579},{"s":2478,"f":590},{"s":2570,"f":601},{"s":2670,"f":614},{"s":2770,"f":632},{"s":2862,"f":656},{"s":2905,"f":670},{"s":2939,"f":687},{"s":2970,"f":712},{"s":2995,"f":747},{"s":3014,"f":808},{"s":3028,"f":860},{"s":3044,"f":940},{"s":3070,"f":1030},{"s":3100,"f":1124},{"s":3129,"f":1225},{"s":3145,"f":1310},{"s":3158,"f":1421}
    ],
    "baseline": [
      {"s0":1,"s1":3160,"d":449}
    ]
  },
  "layer": [
    {
      "data": {"name": "samples"},
      "mark": {"type": "point", "shape": "circle", "filled": false, "size": 18, "strokeWidth": 1.1, "opacity": 1},
      "encoding": {
        "x": {
          "field": "s", "type": "quantitative",
          "scale": {"domain": [0, 3175], "nice": false, "zero": false},
          "axis": {"values": [0, 500, 1000, 1500, 2000, 2500, 3000], "format": "d", "title": "Sorted samples", "labelPadding": 41, "labelBaseline": "alphabetic", "titleBaseline": "alphabetic", "titleY": 66}
        },
        "y": {
          "field": "d", "type": "quantitative",
          "scale": {"domain": [0, 1500], "nice": false},
          "axis": {"values": [0, 500, 1000, 1500], "format": "d", "title": "Parking duration (min)", "labelPadding": 17, "titleBaseline": "alphabetic", "titleX": -77, "titleY": 264}
        },
        "color": {
          "datum": "Real parking duration", "type": "nominal",
          "scale": {"domain": ["Real parking duration"], "range": ["#0072BD"]},
          "legend": {
            "title": null,
            "legendX": 43,
            "legendY": 18.5,
            "symbolType": "circle",
            "symbolSize": 18,
            "symbolStrokeWidth": 1.1,
            "symbolFillColor": "transparent",
            "labelOffset": 29,
            "zindex": 2
          }
        }
      }
    },
    {
      "data": {"name": "forecast"},
      "mark": {"type": "line", "strokeWidth": 4.5, "interpolate": "monotone"},
      "encoding": {
        "x": {"field": "s", "type": "quantitative", "axis": {"orient": "top", "labels": false, "title": null, "values": [0, 500, 1000, 1500, 2000, 2500, 3000]}},
        "y": {"field": "f", "type": "quantitative", "axis": {"orient": "right", "labels": false, "title": null, "values": [0, 500, 1000, 1500]}},
        "stroke": {
          "datum": "Forecasted parking duration", "type": "nominal",
          "scale": {"domain": ["Forecasted parking duration", "Baseline median: 449 min"], "range": ["#000000", "#FF0000"]},
          "legend": {
            "title": " ",
            "titleFont": "Liberation Serif",
            "titleFontSize": 23,
            "titlePadding": 4,
            "legendX": 19,
            "legendY": 19,
            "strokeColor": "#262626",
            "fillColor": "white",
            "symbolType": "M-3,0H3",
            "symbolSize": 529,
            "symbolOffset": 21.5,
            "symbolStrokeWidth": 4,
            "labelOffset": 26.5,
            "rowPadding": 2,
            "zindex": 1
          }
        }
      }
    },
    {
      "data": {"name": "baseline"},
      "mark": {"type": "rule", "strokeWidth": 3},
      "encoding": {
        "x": {"field": "s0", "type": "quantitative", "axis": null},
        "x2": {"field": "s1"},
        "y": {"field": "d", "type": "quantitative", "axis": null},
        "stroke": {"datum": "Baseline median: 449 min", "type": "nominal"}
      }
    }
  ],
  "resolve": {"axis": {"x": "independent", "y": "independent"}}
}
